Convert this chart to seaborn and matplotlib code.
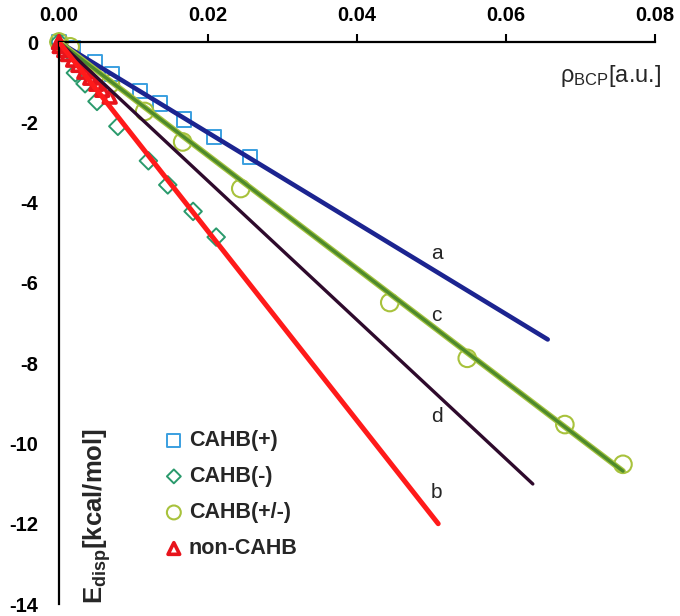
import matplotlib
matplotlib.use("Agg")
import matplotlib.pyplot as plt
import seaborn as sns

# data (rho_BCP in a.u., E_disp in kcal/mol)
sq_x = [0.0, 0.0018, 0.0048, 0.0071, 0.0109, 0.0136, 0.0168, 0.0208, 0.0256]
sq_y = [0.0, -0.15, -0.49, -0.79, -1.23, -1.53, -1.93, -2.37, -2.86]

dia_x = [0.0, 0.0008, 0.0022, 0.0035, 0.0051, 0.0079, 0.0120, 0.0146, 0.0180, 0.0211]
dia_y = [0.0, -0.25, -0.77, -1.04, -1.48, -2.10, -2.96, -3.56, -4.22, -4.86]

circ_x = [0.0, 0.0015, 0.0069, 0.0115, 0.0166, 0.0244, 0.0444, 0.0548, 0.0679, 0.0757]
circ_y = [0.0, -0.12, -1.04, -1.73, -2.49, -3.65, -6.49, -7.88, -9.53, -10.52]

tri_x = [0.0, 0.0001, 0.0007, 0.0012, 0.0019, 0.0026, 0.0034, 0.0042, 0.0050, 0.0058, 0.0068]
tri_y = [0.0, -0.10, -0.20, -0.30, -0.44, -0.57, -0.74, -0.89, -1.04, -1.19, -1.36]

# fitted lines (start at origin, end point)
line_a_x = [0.0, 0.0656]
line_a_y = [0.0, -7.41]
line_c_x = [0.0, 0.0757]
line_c_y = [0.0, -10.69]
line_d_x = [0.0, 0.0636]
line_d_y = [0.0, -11.01]
line_b_x = [0.0, 0.0509]
line_b_y = [0.0, -12.00]

series_labels = ["CAHB(+)", "CAHB(-)", "CAHB(+/-)", "non-CAHB"]
x_ticks = [0.0, 0.02, 0.04, 0.06, 0.08]
x_ticklabels = ["0.00", "0.02", "0.04", "0.06", "0.08"]
y_ticks = [0, -2, -4, -6, -8, -10, -12, -14]
y_ticklabels = ["0", "-2", "-4", "-6", "-8", "-10", "-12", "-14"]

sns.set_style("white")
plt.rcParams["font.family"] = ["Liberation Sans", "DejaVu Sans"]
plt.rcParams["axes.unicode_minus"] = False
plt.rcParams["mathtext.fontset"] = "custom"
plt.rcParams["mathtext.rm"] = "Liberation Sans"
plt.rcParams["mathtext.it"] = "Liberation Sans:italic"
plt.rcParams["mathtext.bf"] = "Liberation Sans:bold"

fig = plt.figure(figsize=(6.8, 6.16), dpi=100)
ax = fig.add_axes([59 / 680, 12 / 616, 596 / 680, 562 / 616])

# hollow markers
sns.scatterplot(x=sq_x, y=sq_y, marker="s", s=105, color="#3a9fe0",
                facecolors="none", edgecolors="#3a9fe0", linewidth=1.4,
                label=series_labels[0], ax=ax, zorder=2)
sns.scatterplot(x=dia_x, y=dia_y, marker="D", s=80, color="#2a9a6c",
                facecolors="none", edgecolors="#2a9a6c", linewidth=1.4,
                label=series_labels[1], ax=ax, zorder=2)
sns.scatterplot(x=circ_x, y=circ_y, marker="o", s=160, color="#a8c23c",
                facecolors="none", edgecolors="#a8c23c", linewidth=1.5,
                label=series_labels[2], ax=ax, zorder=2)
sns.scatterplot(x=tri_x, y=tri_y, marker="^", s=85, color="#e8141c",
                facecolors="none", edgecolors="#e8141c", linewidth=2.6,
                label=series_labels[3], ax=ax, zorder=2)
for coll in ax.collections:
    coll.set_clip_on(False)

# fit lines drawn on top of the markers
sns.lineplot(x=line_a_x, y=line_a_y, color="#1c2490", linewidth=3.3, ax=ax, zorder=3)
sns.lineplot(x=line_c_x, y=line_c_y, color="#a6c440", linewidth=4.2, ax=ax, zorder=3)
sns.lineplot(x=line_c_x, y=line_c_y, color="#4e8a2c", linewidth=2.4, ax=ax, zorder=3)
sns.lineplot(x=line_d_x, y=line_d_y, color="#2e0a2c", linewidth=2.4, ax=ax, zorder=3)
sns.lineplot(x=line_b_x, y=line_b_y, color="#ff1a1a", linewidth=3.6, ax=ax, zorder=3)
for ln in ax.lines:
    ln.set_solid_capstyle("round")

# line tags
for tag, ty in zip(["a", "c", "d", "b"], [-5.28, -6.81, -9.33, -11.23]):
    ax.text(0.0507, ty, tag, fontsize=15, ha="center", va="center")

ax.set_xlim(0, 0.08)
ax.set_ylim(-14, 0)
ax.xaxis.tick_top()
ax.set_xticks(x_ticks)
ax.set_xticklabels(x_ticklabels, fontweight="bold", fontsize=14.5)
ax.set_yticks(y_ticks)
ax.set_yticklabels(y_ticklabels, fontweight="bold", fontsize=14.5)
ax.tick_params(axis="both", direction="out", length=6, width=1.5,
               colors="black")
ax.tick_params(axis="x", pad=6)
ax.tick_params(axis="y", pad=9)
for side in ["right", "bottom"]:
    ax.spines[side].set_visible(False)
for side in ["left", "top"]:
    ax.spines[side].set_color("black")
    ax.spines[side].set_linewidth(1.6)
ax.set_xlabel("")
ax.set_ylabel("")

ax.text(1.01, 0.94, r"$\mathrm{\rho_{BCP}}$[a.u.]", transform=ax.transAxes,
        fontsize=17, ha="right", va="center")
ax.text(0.064, 0.0, r"$\mathbf{E_{disp}}$[kcal/mol]", transform=ax.transAxes,
        fontsize=18.5, fontweight="bold", rotation=90, ha="center", va="bottom")

leg = ax.legend(loc="upper left", bbox_to_anchor=(0.162, 0.325), frameon=False,
                prop={"weight": "bold", "size": 15.5}, handletextpad=0.25,
                labelspacing=0.7, handlelength=0.9, borderaxespad=0)
for h, sz in zip(leg.legend_handles, [85, 50, 100, 70]):
    h.set_sizes([sz])

fig.savefig("out.png", dpi=100)
